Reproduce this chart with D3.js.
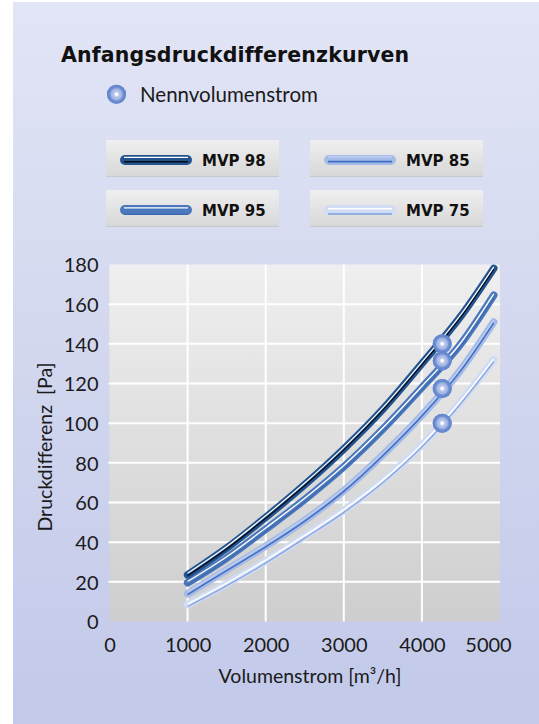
<!DOCTYPE html>
<html><head><meta charset="utf-8">
<script src="https://cdn.jsdelivr.net/npm/d3@7"></script>
<style>body{margin:0;background:#fff}svg{display:block}</style>
</head><body>
<script>
// ---- data ----
const flow = [1000, 1500, 2000, 2500, 3000, 3500, 4000, 4500, 4920];
const mvp98 = [23.5, 37, 52.5, 69, 87, 107, 130, 154, 178];
const mvp95 = [19.5, 32, 46.5, 61.5, 78, 97, 118, 140, 164.5];
const mvp85 = [14, 26, 38, 51, 66, 84, 104, 127, 151];
const mvp75 = [8.5, 19, 30.5, 43, 56, 71, 89, 111, 132];
const seriesNames = ["MVP 98", "MVP 95", "MVP 85", "MVP 75"];
const nominalFlow = 4260;
const nominalValues = [140, 131.5, 117.5, 100];
const xTicks = [0, 1000, 2000, 3000, 4000, 5000];
const yTicks = [0, 20, 40, 60, 80, 100, 120, 140, 160, 180];
const titleText = "Anfangsdruckdifferenzkurven";
const markerLegendText = "Nennvolumenstrom";
const xTitle = "Volumenstrom [m³/h]";
const yTitle = "Druckdifferenz  [Pa]";

// ---- styles ----
const styles = [
  {outer: "#22538f", hi: "#ffffff", hiW: 1.2, hiDy: -1.6, core: "#050a14", coreW: 1.2, coreDy: 0.9},
  {outer: "#4b78bd", hi: "#ffffff", hiW: 1.4, hiDy: -1.3, core: "#3a66ad", coreW: 1.0, coreDy: 2.2},
  {outer: "#a6bbe7", hi: "#c9d6f3", hiW: 1.0, hiDy: -2.0, core: "#3d6dc4", coreW: 1.5, coreDy: 0.8},
  {outer: "#d0dbf4", hi: "#ffffff", hiW: 1.4, hiDy: -0.8, core: "#7f9edc", coreW: 1.1, coreDy: 2.0}
];
const allSeries = [mvp98, mvp95, mvp85, mvp75];

const W = 539, H = 724;
const svg = d3.select("body").append("svg").attr("width", W).attr("height", H);
const defs = svg.append("defs");

const bg = defs.append("linearGradient").attr("id", "bg").attr("x1", 0).attr("y1", 0).attr("x2", 0).attr("y2", 1);
bg.append("stop").attr("offset", "0%").attr("stop-color", "#e2e5f5");
bg.append("stop").attr("offset", "100%").attr("stop-color", "#c2c9e9");

const pg = defs.append("linearGradient").attr("id", "pg").attr("x1", 0).attr("y1", 0).attr("x2", 0).attr("y2", 1);
pg.append("stop").attr("offset", "0%").attr("stop-color", "#efefef");
pg.append("stop").attr("offset", "100%").attr("stop-color", "#cecece");

const lg = defs.append("linearGradient").attr("id", "lg").attr("x1", 0).attr("y1", 0).attr("x2", 0).attr("y2", 1);
lg.append("stop").attr("offset", "0%").attr("stop-color", "#efefef");
lg.append("stop").attr("offset", "100%").attr("stop-color", "#d7d7d7");

const mg = defs.append("radialGradient").attr("id", "mg");
[["0%", "#ffffff"], ["14%", "#eef2fb"], ["28%", "#b9c7ec"], ["55%", "#a2b5e4"], ["70%", "#7593d4"], ["100%", "#6586cc"]]
  .forEach(([o, c]) => mg.append("stop").attr("offset", o).attr("stop-color", c));

svg.append("rect").attr("x", 13).attr("y", 2).attr("width", W - 13).attr("height", H - 2).attr("fill", "url(#bg)");

// ---- scales ----
const x = d3.scaleLinear().domain([0, 5000]).range([109.5, 500]);
const y = d3.scaleLinear().domain([0, 180]).range([621.5, 264.5]);

// plot area
svg.append("rect").attr("x", x(0)).attr("y", y(180)).attr("width", x(5000) - x(0)).attr("height", y(0) - y(180)).attr("fill", "url(#pg)");

// grid
const grid = svg.append("g");
grid.selectAll("line.v").data(xTicks.filter(d => d > 0 && d < 5000)).join("line")
  .attr("x1", d => x(d)).attr("x2", d => x(d)).attr("y1", y(0)).attr("y2", y(180))
  .attr("stroke", "#fff").attr("stroke-width", 2);
grid.selectAll("line.h").data(yTicks.filter(d => d > 0 && d < 180)).join("line")
  .attr("class", "h")
  .attr("x1", x(0) - 1).attr("x2", x(5000)).attr("y1", d => y(d)).attr("y2", d => y(d))
  .attr("stroke", "#fff").attr("stroke-width", 2);

// axes (labels only)
const FONT = "Lato, 'DejaVu Sans', sans-serif";
const xAxis = svg.append("g").attr("transform", `translate(0,${y(0)})`)
  .call(d3.axisBottom(x).tickValues(xTicks).tickSize(0).tickPadding(0).tickFormat(d3.format("d")));
xAxis.select(".domain").remove();
xAxis.selectAll("text").attr("font-family", FONT).attr("font-size", 20).attr("fill", "#1a1a1a")
  .attr("y", 30).attr("dy", 0).attr("dx", d => d === 5000 ? -12 : 0);

const yAxis = svg.append("g").attr("transform", `translate(${x(0)},0)`)
  .call(d3.axisLeft(y).tickValues(yTicks).tickSize(0).tickPadding(11).tickFormat(d3.format("d")));
yAxis.select(".domain").remove();
yAxis.selectAll("text").attr("font-family", FONT).attr("font-size", 20).attr("fill", "#1a1a1a").attr("dy", "0.36em");

svg.append("text").attr("x", 310).attr("y", 683).attr("text-anchor", "middle")
  .attr("font-family", FONT).attr("font-size", 19.5).attr("fill", "#1a1a1a").text(xTitle);
svg.append("text").attr("transform", `translate(52,447) rotate(-90)`).attr("text-anchor", "middle")
  .attr("font-family", FONT).attr("font-size", 19.5).attr("fill", "#1a1a1a").attr("xml:space", "preserve").text(yTitle);

// curves
const line = d3.line().x(d => x(d[0])).y(d => y(d[1])).curve(d3.curveMonotoneX);
const curves = svg.append("g");
for (let i = allSeries.length - 1; i >= 0; i--) {
  const pts = flow.map((f, j) => [f, allSeries[i][j]]);
  const s = styles[i];
  const g = curves.append("g");
  g.append("path").attr("d", line(pts)).attr("fill", "none").attr("stroke", s.outer)
    .attr("stroke-width", 7.5).attr("stroke-linecap", "round");
  g.append("path").attr("d", line(pts)).attr("fill", "none").attr("stroke", s.core)
    .attr("stroke-width", s.coreW).attr("transform", `translate(0,${s.coreDy})`);
  g.append("path").attr("d", line(pts)).attr("fill", "none").attr("stroke", s.hi)
    .attr("stroke-width", s.hiW).attr("transform", `translate(0,${s.hiDy})`);
}

// markers
function marker(sel, cx, cy) {
  sel.append("circle").attr("cx", cx).attr("cy", cy).attr("r", 9.5).attr("fill", "url(#mg)");
  sel.append("circle").attr("cx", cx).attr("cy", cy).attr("r", 8.4).attr("fill", "none").attr("stroke", "#6688cf").attr("stroke-width", 2.2);
  sel.append("circle").attr("cx", cx).attr("cy", cy).attr("r", 1.3).attr("fill", "#ffffff");
}
const mk = svg.append("g");
nominalValues.forEach(v => marker(mk, x(nominalFlow), y(v)));

// title
const title = svg.append("text").attr("x", 61).attr("y", 62).attr("font-family", "'DejaVu Sans', sans-serif")
  .attr("font-weight", "bold").attr("font-size", 20.5).attr("fill", "#111").text(titleText);
{
  const w = title.node().getComputedTextLength();
  const target = 347;
  title.attr("letter-spacing", ((target - w) / (titleText.length - 1)).toFixed(2));
}

// marker legend
marker(svg.append("g"), 116.5, 94.3);
svg.append("text").attr("x", 140).attr("y", 102).attr("font-family", FONT).attr("font-size", 20.5)
  .attr("fill", "#1a1a1a").text(markerLegendText);

// series legend
const legendPos = [[106, 140], [106, 190], [310, 140], [310, 190]];
seriesNames.forEach((name, i) => {
  const [bx, by] = legendPos[i];
  const s = styles[i];
  const g = svg.append("g").attr("transform", `translate(${bx},${by})`);
  g.append("rect").attr("width", 173).attr("height", 37).attr("fill", "url(#lg)");
  g.append("line").attr("x1", 0).attr("x2", 173).attr("y1", 36.5).attr("y2", 36.5).attr("stroke", "#c9c9c9").attr("stroke-width", 1);
  const cy = 20;
  g.append("line").attr("x1", 19).attr("x2", 81).attr("y1", cy).attr("y2", cy)
    .attr("stroke", s.outer).attr("stroke-width", 10).attr("stroke-linecap", "round");
  g.append("line").attr("x1", 18).attr("x2", 82).attr("y1", cy + s.coreDy * 2).attr("y2", cy + s.coreDy * 2)
    .attr("stroke", s.core).attr("stroke-width", s.coreW * 1.2);
  g.append("line").attr("x1", 18).attr("x2", 82).attr("y1", cy + s.hiDy * 1.6).attr("y2", cy + s.hiDy * 1.6)
    .attr("stroke", s.hi).attr("stroke-width", s.hiW);
  g.append("text").attr("x", 96).attr("y", 26).attr("font-family", "'DejaVu Sans', sans-serif")
    .attr("font-weight", "bold").attr("font-size", 15).attr("fill", "#111").text(name);
});
</script>
</body></html>
